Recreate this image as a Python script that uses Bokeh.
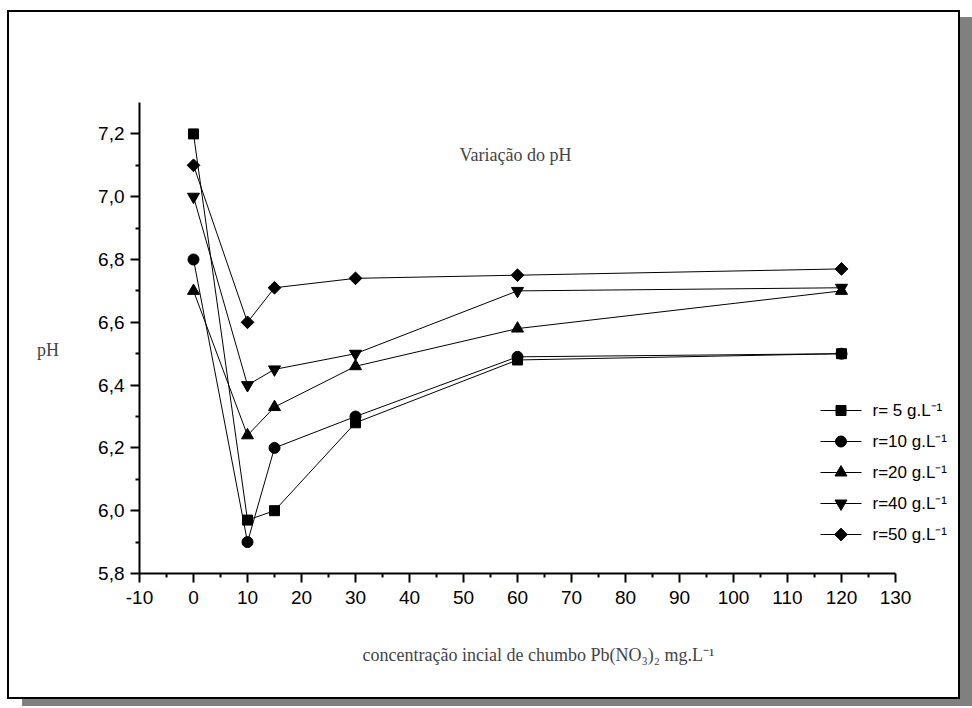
from bokeh.plotting import figure
from bokeh.models import (FixedTicker, CustomJSTickFormatter, Label, Range1d, Title)
from bokeh.core.properties import value
from bokeh.embed import file_html
from bokeh.resources import INLINE

# ---------------- data ----------------
conc = [0, 10, 15, 30, 60, 120]
ph_r5 = [7.20, 5.97, 6.00, 6.28, 6.48, 6.50]
ph_r10 = [6.80, 5.90, 6.20, 6.30, 6.49, 6.50]
ph_r20 = [6.70, 6.24, 6.33, 6.46, 6.58, 6.70]
ph_r40 = [7.00, 6.40, 6.45, 6.50, 6.70, 6.71]
ph_r50 = [7.10, 6.60, 6.71, 6.74, 6.75, 6.77]

series_labels = ["r= 5 g.L\u207b\u00b9", "r=10 g.L\u207b\u00b9", "r=20 g.L\u207b\u00b9",
                 "r=40 g.L\u207b\u00b9", "r=50 g.L\u207b\u00b9"]
series_values = [ph_r5, ph_r10, ph_r20, ph_r40, ph_r50]

x_ticks = list(range(-10, 131, 10))
x_minor = list(range(-5, 131, 10))
y_ticks = [5.8, 6.0, 6.2, 6.4, 6.6, 6.8, 7.0, 7.2]
y_minor = [5.9, 6.1, 6.3, 6.5, 6.7, 6.9, 7.1]

title_text = "Variação do pH"
xlabel_text = "concentração incial de chumbo Pb(NO\u2083)\u2082 mg.L\u207b\u00b9"
ylabel_text = "pH"

# ---------------- styles ----------------
series_markers = ["square", "circle", "triangle", "inverted_triangle", "square"]
series_angles = [0, 0, 0, 0, 0.785398]
series_sizes = [10, 11, 12, 12, 9]

W, H = 953, 689
left, frame_w = 130, 815
top, frame_h = 90, 471
px_per_unit = 5.4
serif = "Liberation Serif"
sans = "Liberation Sans"

p = figure(width=W, height=H, output_backend="svg", toolbar_location=None,
           x_range=Range1d(-10, -10 + frame_w / px_per_unit), y_range=Range1d(5.8, 7.3),
           min_border_left=left, min_border_right=W - left - frame_w,
           min_border_top=top, min_border_bottom=H - top - frame_h)
p.styles = {"border": "2px solid black", "box-shadow": "15px 7px 0 #808080",
            "margin-top": "10px", "margin-left": "7px"}
p.outline_line_color = None
p.xgrid.visible = False
p.ygrid.visible = False
p.background_fill_color = "white"
p.border_fill_color = "white"

# pixel-based ranges for the legend block
p.extra_x_ranges["px"] = Range1d(0, frame_w)
p.extra_y_ranges["py"] = Range1d(0, frame_h)

for ax in (p.xaxis[0], p.yaxis[0]):
    ax.axis_line_width = 2
    ax.axis_line_color = "black"
    ax.major_tick_line_width = 2
    ax.minor_tick_line_width = 2
    ax.major_tick_in = 0
    ax.major_tick_out = 9
    ax.minor_tick_in = 0
    ax.minor_tick_out = 4
    ax.major_label_text_font = sans
    ax.major_label_text_font_size = "19px"
    ax.major_label_text_color = "black"

p.xaxis[0].major_label_standoff = 8
p.yaxis[0].major_label_standoff = 6
p.xaxis[0].bounds = (-10, 130)
p.xaxis[0].ticker = FixedTicker(ticks=x_ticks, minor_ticks=x_minor)
p.yaxis[0].ticker = FixedTicker(ticks=y_ticks, minor_ticks=y_minor)
p.xaxis[0].formatter = CustomJSTickFormatter(code="return tick.toFixed(0);")
p.yaxis[0].formatter = CustomJSTickFormatter(code="return tick.toFixed(1).replace('.', ',');")

# y title sits a little below the frame's middle: an empty first line pushes it down
p.yaxis[0].axis_label = "\n" + ylabel_text
p.yaxis[0].axis_label_orientation = "horizontal"
p.yaxis[0].axis_label_text_font = serif
p.yaxis[0].axis_label_text_font_size = "18px"
p.yaxis[0].axis_label_text_font_style = "normal"
p.yaxis[0].axis_label_standoff = 36

p.add_layout(Title(text=xlabel_text, align="left", offset=223, standoff=72,
                   text_font=serif, text_font_size="18px", text_font_style="normal"),
             "below")

# data series
for vals, mk, ang, sz in zip(series_values, series_markers, series_angles, series_sizes):
    p.line(conc, vals, line_color="black", line_width=1)
    p.scatter(conc, vals, marker=mk, size=sz, angle=ang,
              fill_color="black", line_color="black")

# legend block (pixel coordinates inside the frame)
leg_x0, leg_len, leg_text_dx, leg_top, leg_pitch = 681, 41, 52, 163, 31
for i, (lab, mk, ang, sz) in enumerate(zip(series_labels, series_markers,
                                           series_angles, series_sizes)):
    yy = leg_top - i * leg_pitch
    p.segment(x0=[leg_x0], y0=[yy], x1=[leg_x0 + leg_len], y1=[yy],
              line_color="black", line_width=1, x_range_name="px", y_range_name="py")
    p.scatter([leg_x0 + leg_len / 2], [yy], marker=mk, size=sz, angle=ang,
              fill_color="black", line_color="black", x_range_name="px", y_range_name="py")
    p.text([leg_x0 + leg_text_dx], [yy], text=[lab], text_baseline="middle",
           text_font=value(sans), text_font_size="17px", text_color="black",
           x_range_name="px", y_range_name="py")

p.add_layout(Label(x=376, y=419, x_units="screen", y_units="screen", text=title_text,
                   text_align="center", text_baseline="middle",
                   text_font=serif, text_font_size="18px"))

open("out.html", "w").write(file_html(p, INLINE))
